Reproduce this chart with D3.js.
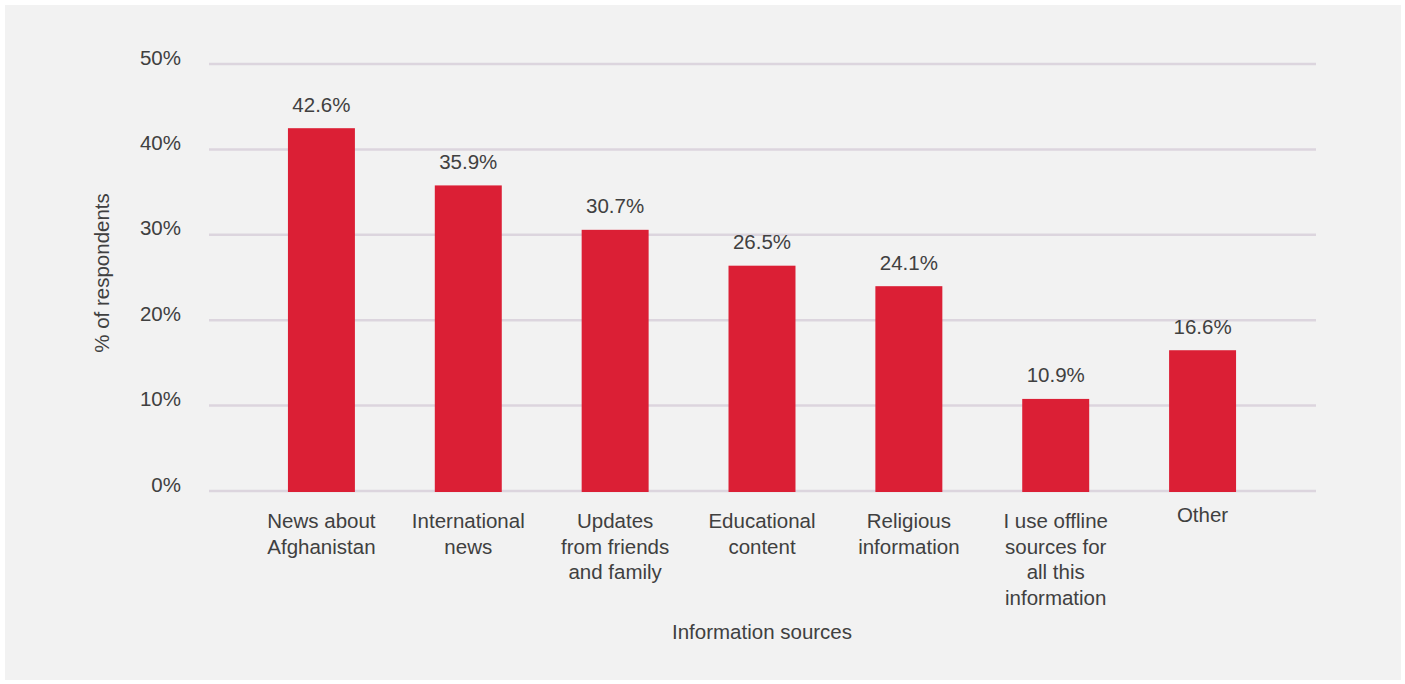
<!DOCTYPE html>
<html>
<head>
<meta charset="utf-8">
<script src="https://cdn.jsdelivr.net/npm/d3@7"></script>
<style>
html,body{margin:0;padding:0;background:#ffffff;}
svg{display:block;}
text{font-family:"Liberation Sans",Arial,Helvetica,sans-serif;fill:#404040;}
</style>
</head>
<body>
<svg id="chart" width="1405" height="684"></svg>
<script>
const categories = [
  ["News about", "Afghanistan"],
  ["International", "news"],
  ["Updates", "from friends", "and family"],
  ["Educational", "content"],
  ["Religious", "information"],
  ["I use offline", "sources for", "all this", "information"],
  ["Other"]
];
const values = [42.6, 35.9, 30.7, 26.5, 24.1, 10.9, 16.6];
const yTicks = [0, 10, 20, 30, 40, 50];
const yTitle = "% of respondents";
const xTitle = "Information sources";

const svg = d3.select("#chart");
svg.append("rect").attr("x", 5).attr("y", 5).attr("width", 1396).attr("height", 675).attr("fill", "#f2f2f2");

const keys = categories.map((c, i) => i);
const x = d3.scaleBand().domain(keys).range([248, 1276]).paddingInner(0.544).paddingOuter(0.272);
const y = d3.scaleLinear().domain([0, 50]).range([491, 64]);

// gridlines
svg.append("g").selectAll("line").data(yTicks).join("line")
  .attr("x1", 209).attr("x2", 1316)
  .attr("y1", d => y(d)).attr("y2", d => y(d))
  .attr("stroke", "#dcd5de").attr("stroke-width", 2.5);

// y tick labels
svg.append("g").selectAll("text").data(yTicks).join("text")
  .attr("x", 181).attr("y", d => y(d) - 7)
  .attr("text-anchor", "end").attr("dominant-baseline", "central")
  .attr("font-size", 20.5).text(d => d + "%");

// bars
svg.append("g").selectAll("rect").data(values).join("rect")
  .attr("x", (d, i) => x(i)).attr("width", x.bandwidth())
  .attr("y", d => y(d) + 1).attr("height", d => y(0) - y(d))
  .attr("fill", "#db1f35");

// value labels
svg.append("g").selectAll("text").data(values).join("text")
  .attr("x", (d, i) => x(i) + x.bandwidth() / 2)
  .attr("y", d => y(d) - 23)
  .attr("text-anchor", "middle").attr("dominant-baseline", "central")
  .attr("font-size", 20.5).text(d => d.toFixed(1) + "%");

// category labels
const cg = svg.append("g");
categories.forEach((lines, i) => {
  const t = cg.append("text")
    .attr("x", x(i) + x.bandwidth() / 2)
    .attr("y", lines.length === 1 ? 514 : 520)
    .attr("text-anchor", "middle").attr("dominant-baseline", "central")
    .attr("font-size", 20.5);
  lines.forEach((l, j) => {
    t.append("tspan").attr("x", x(i) + x.bandwidth() / 2).attr("dy", j === 0 ? 0 : 25.7).text(l);
  });
});

// axis titles
svg.append("text").attr("transform", "translate(101,273) rotate(-90)")
  .attr("text-anchor", "middle").attr("dominant-baseline", "central")
  .attr("font-size", 20.5).text(yTitle);
svg.append("text").attr("x", 762).attr("y", 631)
  .attr("text-anchor", "middle").attr("dominant-baseline", "central")
  .attr("font-size", 20.5).text(xTitle);
</script>
</body>
</html>
